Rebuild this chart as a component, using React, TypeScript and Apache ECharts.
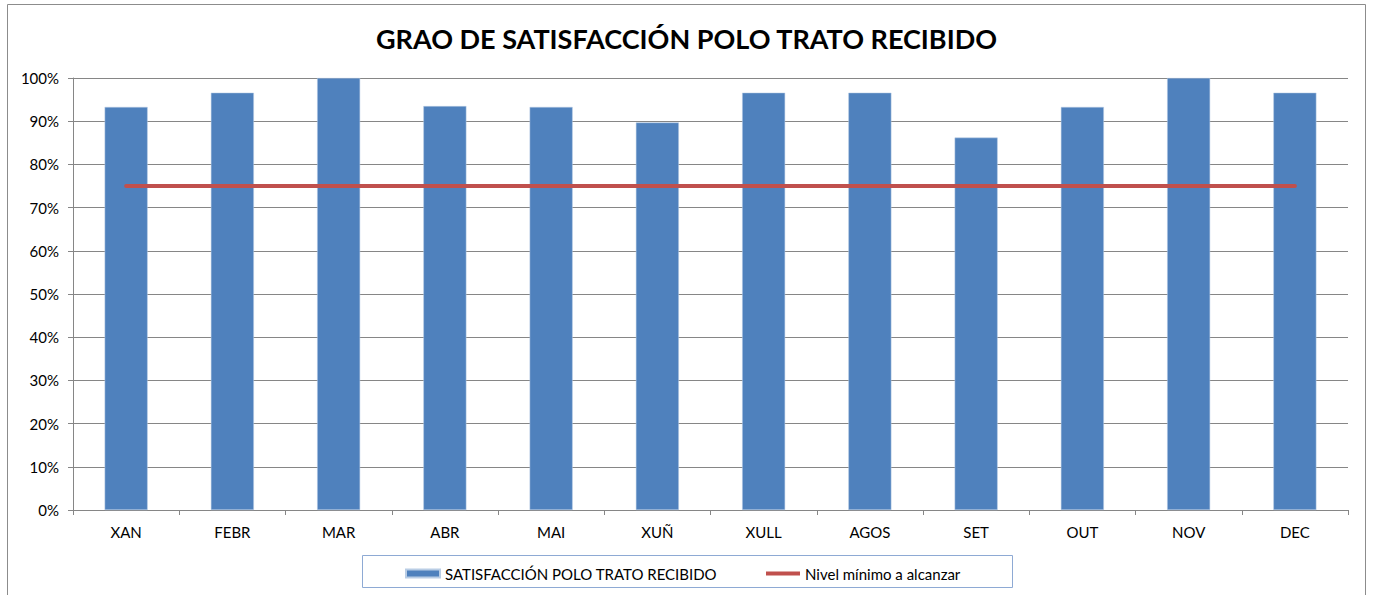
import React, { useEffect, useRef } from "react";
import * as echarts from "echarts";

const categories = ["XAN", "FEBR", "MAR", "ABR", "MAI", "XUÑ", "XULL", "AGOS", "SET", "OUT", "NOV", "DEC"];
const satisfaction = [0.933, 0.966, 1.0, 0.935, 0.933, 0.897, 0.966, 0.966, 0.862, 0.933, 1.0, 0.966];
const minimumLevel = [0.75, 0.75, 0.75, 0.75, 0.75, 0.75, 0.75, 0.75, 0.75, 0.75, 0.75, 0.75];
const titleText = "GRAO DE SATISFACCIÓN POLO TRATO RECIBIDO";
const barName = "SATISFACCIÓN POLO TRATO RECIBIDO";
const lineName = "Nivel mínimo a alcanzar";

const FONT = "Lato, 'Open Sans', sans-serif";

export default function App() {
  const ref = useRef<HTMLDivElement>(null);
  useEffect(() => {
    if (!ref.current) return;
    const chart = echarts.init(ref.current, undefined, { renderer: "svg" });
    chart.setOption({
      animation: false,
      backgroundColor: "#ffffff",
      title: {
        text: titleText,
        left: "center",
        top: 20,
        textStyle: { fontFamily: FONT, fontWeight: "bold", fontSize: 27, color: "#000" },
      },
      graphic: [
        {
          type: "rect",
          shape: { x: 7.5, y: 4.5, width: 1358, height: 700 },
          style: { fill: "none", stroke: "#8c8c8c", lineWidth: 1 },
          silent: true,
          z: -1,
        },
        {
          type: "rect",
          shape: { x: 362.5, y: 555.5, width: 650, height: 32 },
          style: { fill: "none", stroke: "#8eaad4", lineWidth: 1 },
          silent: true,
        },
      ],
      legend: [
        {
          data: [barName],
          left: 400,
          top: 561,
          itemWidth: 34,
          itemHeight: 8,
          icon: "rect",
          textStyle: { fontFamily: FONT, fontSize: 15, color: "#000" },
        },
        {
          data: [lineName],
          left: 761,
          top: 561,
          itemWidth: 34,
          itemHeight: 4,
          icon: "rect",
          textStyle: { fontFamily: FONT, fontSize: 15, color: "#000" },
        },
      ],
      grid: { left: 73, right: 25, top: 78, bottom: 85, containLabel: false },
      xAxis: {
        type: "category",
        data: categories,
        axisLine: { lineStyle: { color: "#868686", width: 1 } },
        axisTick: { show: true, length: 5, lineStyle: { color: "#868686" } },
        axisLabel: { fontFamily: FONT, fontSize: 15, color: "#000", margin: 14 },
      },
      yAxis: {
        type: "value",
        min: 0,
        max: 1,
        interval: 0.1,
        axisLine: { show: true, lineStyle: { color: "#868686", width: 1 } },
        axisTick: { show: true, length: 5, lineStyle: { color: "#868686" } },
        splitLine: { lineStyle: { color: "#868686", width: 1 } },
        axisLabel: {
          fontFamily: FONT,
          fontSize: 15,
          color: "#000",
          margin: 14,
          formatter: (v: number) => `${Math.round(v * 100)}%`,
        },
      },
      series: [
        {
          name: barName,
          type: "bar",
          data: satisfaction,
          barWidth: 43,
          itemStyle: { color: "#4F81BD", borderColor: "#b9cde5", borderWidth: 0.5 },
        },
        {
          name: lineName,
          type: "line",
          data: minimumLevel,
          symbol: "none",
          lineStyle: { color: "#C0504D", width: 4, cap: "round" },
          itemStyle: { color: "#C0504D" },
          z: 5,
        },
      ],
    });
    return () => chart.dispose();
  }, []);
  return (
    <div
      ref={ref}
      style={{ position: "fixed", left: 0, top: 0, width: 1373, height: 595, background: "#fff" }}
    />
  );
}
